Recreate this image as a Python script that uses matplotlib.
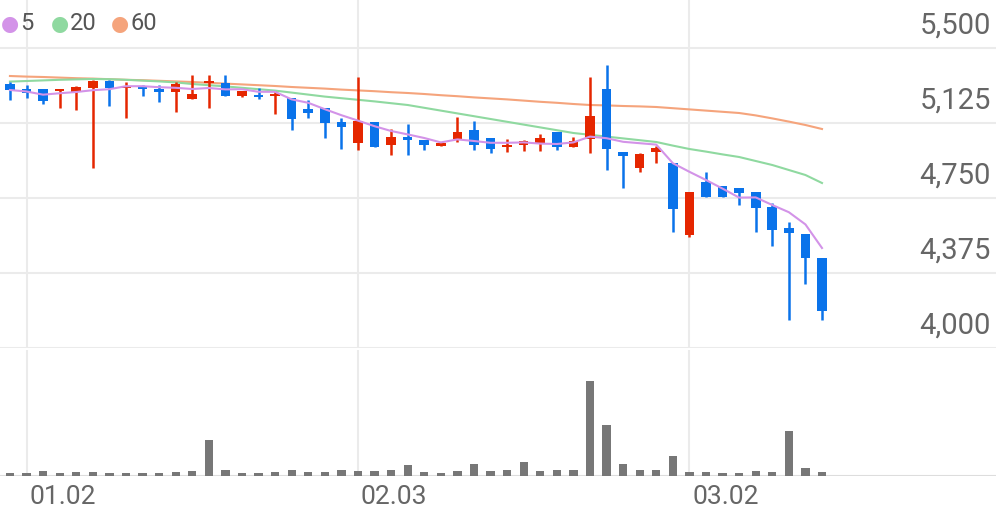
import matplotlib
matplotlib.use("Agg")
import matplotlib.pyplot as plt
import numpy as np
import pandas as pd

opens  = [5320,5295,5295,5285,5280,5300,5335,5300,5310,5295,5280,5245,5325,5325,5260,5265,5260,5250,5195,5200,
          5130,5025,5130,5015,5055,5040,5010,5045,5090,5050,5005,5015,5025,5080,5005,5045,5295,4980,4900,4980,
          4925,4565,4830,4810,4800,4780,4705,4600,4570,4450]
closes = [5290,5275,5235,5295,5305,5335,5300,5310,5295,5280,5320,5270,5335,5260,5285,5255,5270,5145,5175,5125,
          5105,5135,5005,5055,5040,5015,5025,5080,5015,4995,5015,5035,5050,5005,5035,5160,4995,4960,4970,5000,
          4695,4780,4755,4755,4775,4700,4590,4575,4450,4185]
highs  = [5330,5315,5295,5295,5310,5340,5340,5330,5315,5315,5330,5365,5365,5365,5285,5300,5285,5250,5240,5200,
          5150,5355,5130,5095,5120,5040,5030,5155,5135,5050,5045,5040,5070,5080,5055,5355,5415,4980,4975,5010,
          4925,4780,4880,4810,4800,4780,4725,4630,4570,4450]
lows   = [5240,5250,5220,5200,5190,4900,5210,5150,5260,5230,5180,5245,5200,5260,5255,5245,5170,5090,5150,5050,
          4995,4990,5005,4965,4965,4990,5010,5030,4990,4975,4980,4985,4985,4990,5005,4975,4890,4800,4880,4925,
          4580,4555,4755,4755,4715,4580,4510,4140,4320,4140]
volumes = [3,3,5,3,4,4,3,3,3,3,4,5,36,6,3,3,4,6,4,4,
           6,5,5,6,11,4,3,5,12,5,6,14,5,6,6,94,51,12,6,6,
           20,4,4,3,3,5,4,45,8,4]
ma20 = [5332,5335,5338,5341,5343,5345,5344,5341,5337,5333,5328,5320,5314,5308,5301,5294,5287,5277,5267,5257,
        5249,5241,5233,5224,5215,5201,5187,5173,5159,5145,5131,5117,5103,5089,5075,5066,5057,5048,5039,5030,
        5012,4995,4982,4968,4955,4935,4915,4890,4865,4825]
ma60 = [5360,5357,5355,5352,5349,5347,5344,5341,5339,5336,5333,5330,5326,5322,5318,5314,5310,5305,5301,5297,
        5292,5288,5284,5279,5275,5270,5264,5259,5253,5248,5243,5237,5231,5226,5220,5215,5213,5210,5208,5205,
        5199,5193,5187,5181,5175,5163,5148,5132,5115,5095]
xtick_idx = [1, 21, 41]
xtick_labels = ["01.02", "02.03", "03.02"]
ytick_vals = [4000, 4375, 4750, 5125, 5500]

ma5 = pd.Series(closes).rolling(5, min_periods=1).mean().values
RED, BLUE = "#e52600", "#0a73ea"
C5, C20, C60 = "#d393e8", "#8fd9a0", "#f5a47c"
GRID = "#ebebeb"
W, H = 996, 519
fig = plt.figure(figsize=(W/100, H/100), dpi=100)
x = np.arange(len(closes))
xl = (-0.6, 59.5)

ax = fig.add_axes([0, 1-348/H, 1, 348/H])
axv = fig.add_axes([0, 1-476/H, 1, 126/H])
for a in (ax, axv):
    a.set_xlim(*xl)
    for s in a.spines.values():
        s.set_visible(False)
    a.set_xticks([]); a.set_yticks([])
    for xi in xtick_idx:
        a.axvline(xi, color=GRID, lw=1.5, zorder=0)
ax.set_ylim(4000, 5740)
for v in ytick_vals:
    ax.axhline(v, color=GRID, lw=1.5, zorder=0)
    ax.text(59.2, v + 40, f"{v:,}", ha="right", va="bottom", fontsize=21, color="#666666", family="Roboto")

for i in x:
    c = RED if closes[i] >= opens[i] else BLUE
    ax.vlines(i, lows[i], highs[i], color=c, lw=1.8, zorder=3)
    lo, hi = min(opens[i], closes[i]), max(opens[i], closes[i])
    ax.bar(i, max(hi-lo, 8), bottom=lo, width=0.58, color=c, zorder=3)
ax.plot(x, ma60, color=C60, lw=1.5, zorder=2)
ax.plot(x, ma20, color=C20, lw=1.5, zorder=2)
ax.plot(x, ma5, color=C5, lw=1.5, zorder=4)

axv.set_ylim(0, 125)
axv.bar(x, volumes, width=0.5, color="#777777", zorder=3)
axv.axhline(0, color="#dddddd", lw=1.5, zorder=2)

for xi, lab in zip(xtick_idx, xtick_labels):
    fig.text((xi - xl[0])/(xl[1]-xl[0]) + 0.003, 1-497/H, lab, ha="left", va="center",
             fontsize=19, color="#666666", family="Roboto")

for (px, col, lab) in [(10, C5, "5"), (60, C20, "20"), (120, C60, "60")]:
    fig.text(px/W, 1-24/H, "●", color=col, fontsize=15, ha="center", va="center")
    fig.text((px+10)/W, 1-24/H, lab, color="#555555", fontsize=17, ha="left", va="center", family="Roboto")

fig.savefig("out.png", dpi=100)
